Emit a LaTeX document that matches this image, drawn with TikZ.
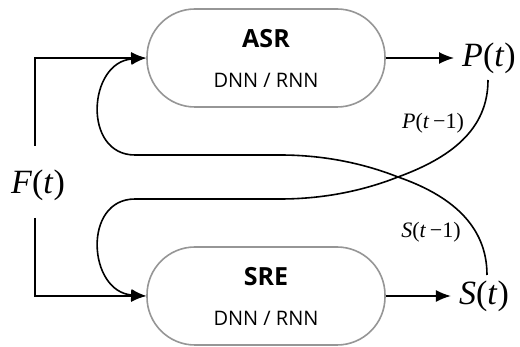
\documentclass[tikz,border=0pt]{standalone}
\usepackage{fontspec}
\setmainfont{Liberation Serif}
\newfontfamily\boxfont{Open Sans}
\usetikzlibrary{arrows.meta}
\definecolor{boxgray}{RGB}{150,150,150}
\tikzset{
  model/.style={draw=boxgray, line width=1.6pt, rounded corners=48pt,
    minimum width=238pt, minimum height=98pt, inner sep=0pt},
  mname/.style={anchor=base, inner sep=0pt, font=\boxfont\fontsize{25}{28}\selectfont\bfseries},
  mtype/.style={anchor=base, inner sep=0pt, font=\boxfont\fontsize{20}{24}\selectfont},
  arr/.style={line width=1.6pt, -{Latex[length=15pt,width=12pt]}},
  sig/.style={font=\fontsize{34}{36}\selectfont, inner sep=0pt},
  small/.style={font=\fontsize{22}{24}\selectfont, inner sep=0pt}
}
\begin{document}
\begin{tikzpicture}[x=1pt,y=-1pt]
\useasboundingbox (0,0) rectangle (520,347);
% models
\node[model] (asr) at (266,58) {};
\node[mname] (asrn) at (266,48) {ASR};
\node[mtype] (asrt) at (266,88) {DNN / RNN};
\node[model] (sre) at (266,296) {};
\node[mname] (sren) at (266,286) {SRE};
\node[mtype] (sret) at (266,326) {DNN / RNN};
% signals
\node[sig] (f) at (38,185) {\textit{F}(\textit{t})};
\node[sig] (p) at (489,58) {\textit{P}(\textit{t})};
\node[sig] (s) at (484,296) {\textit{S}(\textit{t})};
\coordinate (fu) at (35,146);
\coordinate (fd) at (35,218);
\coordinate (pout) at (488,80);
\coordinate (sout) at (487,275);
\coordinate (x) at (398,177);
% input
\draw[arr] (fu) |- (asr.west);
\draw[arr] (fd) |- (sre.west);
% output
\draw[arr, shorten >=8pt] (asr.east) -- (p.west);
\draw[arr, shorten >=8pt] (sre.east) -- (s.west);
% feedback
\draw[arr] (pout) .. controls (488,130) and (450,158) .. (x)
  .. controls (360,192) and (320,199) .. (280,199) -- (135,199)
  .. controls (82,199) and (88,292) .. (sre.west);
\draw[arr] (sout) .. controls (487,225) and (450,195) .. (x)
  .. controls (360,162) and (320,155) .. (280,155) -- (135,155)
  .. controls (82,155) and (88,62) .. (asr.west);
\node[small] (pl) at (433,123) {\textit{P}(\textit{t}\,−1)};
\node[small] (sl) at (431,232) {\textit{S}(\textit{t}\,−1)};
\end{tikzpicture}
\end{document}
